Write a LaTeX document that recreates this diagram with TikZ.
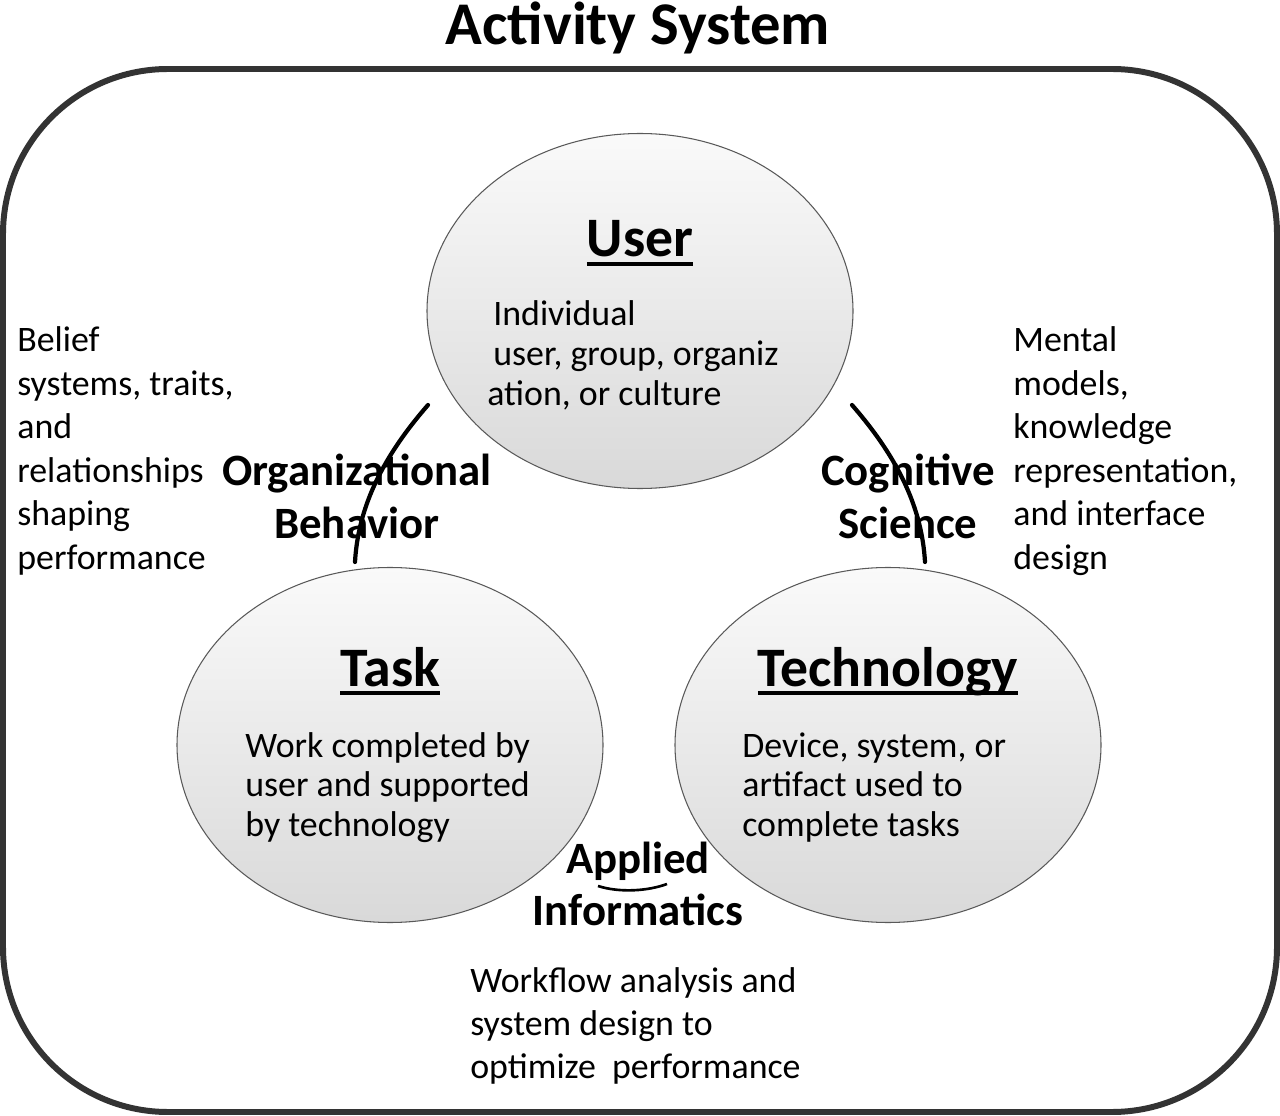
\documentclass[tikz,border=0pt]{standalone}
\usepackage{fontspec}
\setmainfont{Carlito}
\usepackage{tikz}
\usetikzlibrary{shapes.geometric}

\newsavebox{\headbox}
\newcommand{\headline}[1]{\sbox{\headbox}{#1}\makebox[0pt][l]{\usebox{\headbox}}\rule[-5pt]{\wd\headbox}{2.3pt}}
\newcommand{\headsize}{\fontsize{31.7}{38}\selectfont\bfseries}
\newcommand{\bodysize}{\fontsize{20.4}{22.7}\selectfont}
\newcommand{\sidesize}{\fontsize{20.4}{24.7}\selectfont}
\newcommand{\fieldsize}{\fontsize{25.5}{30}\selectfont\bfseries}

\begin{document}
\begin{tikzpicture}[x=0.2mm,y=-0.2mm,
		blob/.style={ellipse,draw=gray!70!black,line width=0.6pt,top color=gray!4,bottom color=gray!30,minimum width=85.2mm,minimum height=71mm,inner sep=0pt},
		txt/.style={inner sep=0pt,anchor=base west},
		lbl/.style={inner sep=0pt,anchor=base},
		link/.style={line width=2.4pt,line cap=round}]
		\useasboundingbox (0,0) rectangle (1280,1116);
		
		\draw[line width=3.4pt,draw=black!80,rounded corners=33mm] (3,69) rectangle (1277,1112);
		
		\node[lbl] (title) at (638,45){\fontsize{34.5}{40}\selectfont\bfseries Activity System};
		
		\node[blob] (user) at (640,311){};
		\node[blob] (task) at (390,745){};
		\node[blob] (tech) at (888,745){};
		
		\node[lbl] (usertitle) at (640,257){\headsize\headline{User}};
		\node[lbl] (tasktitle) at (390,686){\headsize\headline{Task}};
		\node[lbl] (techtitle) at (888,686){\headsize\headline{Technology}};
		
		\node[txt] (userbody) at (487,326){\bodysize\begin{tabular}[t]{@{}l@{}}\hspace{1.2mm}Individual\\\hspace{1.2mm}user, group, organiz\\ation, or culture\end{tabular}};
		\node[txt] (taskbody) at (245,757){\bodysize\begin{tabular}[t]{@{}l@{}}Work completed by\\user and supported\\by technology\end{tabular}};
		\node[txt] (techbody) at (742,757){\bodysize\begin{tabular}[t]{@{}l@{}}Device, system, or\\artifact used to\\complete tasks\end{tabular}};
		
		\node[txt] (belief) at (17,352){\sidesize\begin{tabular}[t]{@{}l@{}}Belief\\systems, traits,\\and\\relationships\\shaping\\performance\end{tabular}};
		\node[txt] (mental) at (1013,352){\sidesize\begin{tabular}[t]{@{}l@{}}Mental\\models,\\knowledge\\representation,\\and interface\\design\end{tabular}};
		\node[txt] (workflow) at (470,992){\sidesize\begin{tabular}[t]{@{}l@{}}Workflow analysis and\\system design to\\optimize\ \ performance\end{tabular}};
		
		\node[lbl] (orgbeh) at (357,486){\fieldsize\begin{tabular}[t]{@{}c@{}}Organizational\\Behavior\end{tabular}};
		\node[lbl] (cogsci) at (908,486){\fieldsize\begin{tabular}[t]{@{}c@{}}Cognitive\\Science\end{tabular}};
		\node[lbl] (appinf) at (638,873){\fieldsize\begin{tabular}[t]{@{}c@{}}Applied\\Informatics\end{tabular}};
		
		% arcs between the circles
		\coordinate (ob1) at (428,405);
		\coordinate (ob2) at (355,562);
		\coordinate (cs1) at (852,405);
		\coordinate (cs2) at (925,562);
		\coordinate (ai1) at (598,886);
		\coordinate (ai2) at (667,884);
		\draw[link] (ob1) .. controls (380,460) and (358,510) .. (ob2);
		\draw[link] (cs1) .. controls (900,460) and (922,510) .. (cs2);
		\draw[line width=1.5pt] (ai1) .. controls (620,893) and (648,891) .. (ai2);
	\end{tikzpicture}
\end{document}
